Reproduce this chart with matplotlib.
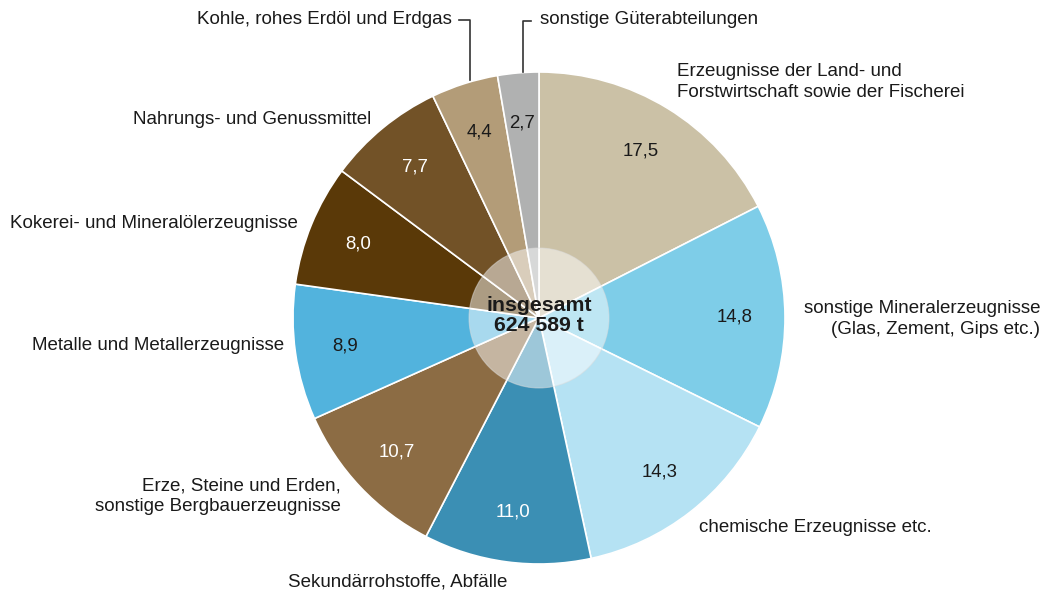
import numpy as np
import matplotlib
matplotlib.use("Agg")
import matplotlib.pyplot as plt
from matplotlib.patches import Circle

plt.rcParams['font.family'] = ['Liberation Sans', 'DejaVu Sans']

# shares in percent, clockwise from 12 o'clock
categories = ["Erzeugnisse der Land- und\nForstwirtschaft sowie der Fischerei",
              "sonstige Mineralerzeugnisse\n(Glas, Zement, Gips etc.)",
              "chemische Erzeugnisse etc.",
              "Sekundärrohstoffe, Abfälle",
              "Erze, Steine und Erden,\nsonstige Bergbauerzeugnisse",
              "Metalle und Metallerzeugnisse",
              "Kokerei- und Mineralölerzeugnisse",
              "Nahrungs- und Genussmittel",
              "Kohle, rohes Erdöl und Erdgas",
              "sonstige Güterabteilungen"]
values = [17.5, 14.8, 14.3, 11.0, 10.7, 8.9, 8.0, 7.7, 4.4, 2.7]
value_labels = ["17,5", "14,8", "14,3", "11,0", "10,7", "8,9", "8,0", "7,7", "4,4", "2,7"]
colors = ["#cbc1a6", "#7ecde8", "#b5e2f3", "#3b8fb4", "#8c6c44",
          "#52b3dd", "#5a3908", "#725227", "#b39c78", "#b0b1b1"]
dark_slices = [False, False, False, True, True, False, True, True, False, False]
total_label = "insgesamt\n624 589 t"

W, H = 1043, 591
cx, cy, R = 539, 318, 246
fig = plt.figure(figsize=(W / 100, H / 100), dpi=100)
ax = fig.add_axes([(cx - R) / W, (H - cy - R) / H, 2 * R / W, 2 * R / H])

wedges, _ = ax.pie(values, colors=colors, startangle=90, counterclock=False,
                   radius=1, wedgeprops=dict(edgecolor='white', linewidth=1.2))
ax.set_xlim(-1, 1)
ax.set_ylim(-1, 1)
ax.set_aspect('equal')
ax.axis('off')

# value labels inside the slices
for w, lab, dark in zip(wedges, value_labels, dark_slices):
    mid = np.deg2rad((w.theta1 + w.theta2) / 2)
    ax.text(0.795 * np.cos(mid), 0.795 * np.sin(mid), lab, ha='center', va='center',
            fontsize=13.4, color='white' if dark else '#1a1a1a')

# translucent centre disc
ax.add_patch(Circle((0, 0), 70 / R, facecolor='white', alpha=0.5,
                    edgecolor='#dddddd', linewidth=0.8, zorder=3))
ax.text(0, 0.01, total_label, ha='center', va='center', fontsize=15.3,
        fontweight='bold', color='#1a1a1a', linespacing=1.08, zorder=4)

def px(x, y):
    return x / W, 1 - y / H

# outer category labels (pixel anchor, alignment)
label_pos = [(677, 82, 'left'), (1040, 319, 'right'), (699, 528, 'left'),
             (398, 582, 'center'), (341, 496, 'right'), (284, 346, 'right'),
             (298, 224, 'right'), (371, 119, 'right'), (452, 20, 'right'),
             (540, 20, 'left')]
for text, (x, y, ha) in zip(categories, label_pos):
    fx, fy = px(x, y)
    fig.text(fx, fy, text, ha=ha, va='center', fontsize=13.5, color='#1a1a1a',
             linespacing=1.27, multialignment=ha)

# leader lines for the two small slices
for xs, ys in [([459, 470, 470], [20, 20, 80]), ([531, 523, 523], [21, 21, 72])]:
    fig.add_artist(plt.Line2D([x / W for x in xs], [1 - y / H for y in ys],
                              color='#333333', linewidth=1.2))

fig.savefig("out.png", dpi=100, facecolor='white')
